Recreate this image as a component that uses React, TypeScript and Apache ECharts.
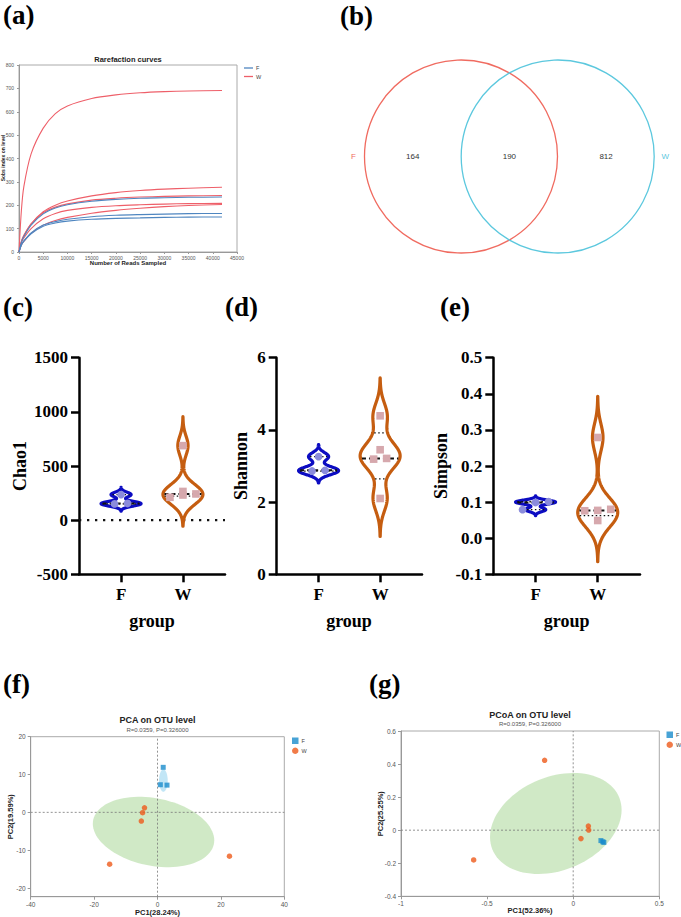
import React, { useEffect, useRef } from "react";
import * as echarts from "echarts";

const SERIF = "'Times New Roman', 'Liberation Serif', serif";
const SANS = "Arial, 'Liberation Sans', Helvetica, sans-serif";

// ---------- (a) rarefaction curves: sequencing depth vs observed OTUs ----------
const readDepth = [0, 500, 1000, 2500, 5000, 7500, 10000, 15000, 20000, 25000, 30000, 35000, 41900];
const rareF = [
  [0, 42, 66, 115, 163, 188, 202, 217, 225, 230, 232, 234, 235],
  [0, 32, 48, 82, 115, 130, 140, 151, 157, 160, 162, 164, 165],
  [0, 30, 46, 78, 110, 124, 132, 140, 144, 146, 148, 149, 150],
];
const rareW = [
  [0, 180, 280, 420, 530, 592, 625, 657, 672, 681, 686, 689, 691],
  [0, 45, 70, 120, 172, 200, 218, 240, 254, 263, 269, 273, 277],
  [0, 45, 70, 120, 168, 192, 206, 222, 230, 235, 238, 240, 242],
  [0, 40, 60, 100, 142, 165, 178, 191, 198, 202, 205, 207, 208],
  [0, 30, 45, 80, 115, 135, 148, 166, 178, 187, 194, 199, 203],
];

// ---------- (b) Venn of OTUs ----------
const vennSets = ["F", "W"];
const vennCounts = [164, 190, 812]; // F only, shared, W only

// ---------- (c)-(e) alpha diversity per sample ----------
const groupNames = ["F", "W"];
const chao1F = [236, 154, 150];
const chao1W = [688, 265, 242, 232, 211];
const shannonF = [3.26, 2.88, 2.86];
const shannonW = [4.39, 3.45, 3.21, 3.19, 2.1];
const simpsonF = [0.101, 0.099, 0.079];
const simpsonW = [0.279, 0.08, 0.077, 0.076, 0.049];

// ---------- (f) PCA and (g) PCoA ----------
const pcaF = [[1.8, 11.9], [0.9, 7.3], [3.0, 7.2]];
const pcaW = [[-4.1, 1.2], [-4.7, -0.1], [-5.1, -2.3], [-15.1, -13.7], [22.7, -11.6]];
// ellipse: centre x, centre y, x half-extent, y half-extent, correlation
const pcaEllipseW = [-1.25, -5.2, 19.15, 9.3, -0.236];
const pcaEllipseF = [1.85, 8.4, 1.37, 2.95, 0];
const pcoaF = [[0.161, -0.063], [0.172, -0.07], [0.178, -0.074]];
const pcoaW = [[-0.166, 0.423], [-0.578, -0.18], [0.088, 0.025], [0.09, 0.001], [0.045, -0.051]];
const pcoaEllipseW = [-0.101, 0.0405, 0.382, 0.3055, 0.268];

const C = {
  rareRed: "#ee5f69",
  rareBlue: "#4f86c0",
  vennF: "#f06b60",
  vennW: "#5cc8de",
  violinF: "#0c0cc2",
  violinW: "#c55d10",
  dotF: "#8b8cdc",
  dotW: "#d6a8ad",
  pcaF: "#1a8ccc",
  pcaW: "#ee5a1a",
};

const plain = (v: number) => String(Math.round(v * 1000) / 1000);

type Violin = { vals: number[]; bw: number; stroke: string; dot: string; square: boolean };

function quartiles(vals: number[]) {
  const s = [...vals].sort((a, b) => a - b);
  const n = s.length;
  const at = (pos: number) => {
    const i = pos - 1;
    const lo = Math.max(0, Math.min(n - 1, Math.floor(i)));
    const hi = Math.max(0, Math.min(n - 1, Math.ceil(i)));
    const f = i - Math.floor(i);
    return s[lo] * (1 - f) + s[hi] * f;
  };
  return [at((n + 1) / 4), at((n + 1) / 2), at((3 * (n + 1)) / 4)];
}

// kernel-density violin with median/quartile lines and the samples on top
function violinRenderer(violins: Violin[]) {
  return (_params: any, api: any) => {
    const v = violins[api.value(2)];
    const xc = api.value(0);
    const HW = 20;
    const dens = (y: number) =>
      v.vals.reduce((s, x) => s + Math.exp(-0.5 * ((y - x) / v.bw) ** 2), 0);
    const lo = Math.min(...v.vals) - 3 * v.bw;
    const hi = Math.max(...v.vals) + 3 * v.bw;
    const N = 180;
    const samples: number[][] = [];
    let maxD = 0;
    for (let i = 0; i <= N; i++) {
      const y = lo + ((hi - lo) * i) / N;
      const d = dens(y);
      samples.push([y, d]);
      if (d > maxD) maxD = d;
    }
    const left: number[][] = [];
    const right: number[][] = [];
    for (const [y, d] of samples) {
      const p = api.coord([xc, y]);
      const w = (HW * d) / maxD;
      left.push([p[0] - w, p[1]]);
      right.push([p[0] + w, p[1]]);
    }
    const children: any[] = [
      {
        type: "polygon",
        shape: { points: left.concat(right.reverse()) },
        style: { fill: "#fff", stroke: v.stroke, lineWidth: 3.2, lineJoin: "round" },
      },
    ];
    const [q1, med, q3] = quartiles(v.vals);
    const hline = (y: number, dash: number[], lw: number) => {
      const p = api.coord([xc, y]);
      const w = Math.max(0, (HW * dens(y)) / maxD - 1.5);
      return {
        type: "line",
        shape: { x1: p[0] - w, y1: p[1], x2: p[0] + w, y2: p[1] },
        style: { stroke: "#111", lineWidth: lw, lineDash: dash },
      };
    };
    children.push(hline(q1, [1.5, 2.5], 1.3), hline(q3, [1.5, 2.5], 1.3), hline(med, [4, 3], 2));

    const pts = v.vals
      .map((val) => ({ val, p: api.coord([xc, val]) }))
      .sort((a, b) => a.val - b.val);
    const rows: any[][] = [];
    for (const pt of pts) {
      const row = rows[rows.length - 1];
      if (row && row.length < 3 && Math.abs(row[0].p[1] - pt.p[1]) < 8) row.push(pt);
      else rows.push([pt]);
    }
    for (const row of rows) {
      row.forEach((pt, i) => {
        const cx = pt.p[0] + (i - (row.length - 1) / 2) * 13;
        const cy = pt.p[1];
        if (v.square) {
          children.push({
            type: "rect",
            shape: { x: cx - 3.8, y: cy - 3.8, width: 7.6, height: 7.6 },
            style: { fill: v.dot },
          });
        } else {
          children.push({ type: "circle", shape: { cx, cy, r: 3.9 }, style: { fill: v.dot } });
        }
      });
    }
    return { type: "group", children };
  };
}

function ellipseRenderer(fills: string[]) {
  return (params: any, api: any) => {
    const cx = api.value(0), cy = api.value(1), sx = api.value(2), sy = api.value(3), r = api.value(4);
    const pts: number[][] = [];
    for (let i = 0; i < 96; i++) {
      const t = (i / 96) * Math.PI * 2;
      const dx = sx * Math.cos(t);
      const dy = r * sy * Math.cos(t) + sy * Math.sqrt(1 - r * r) * Math.sin(t);
      pts.push(api.coord([cx + dx, cy + dy]));
    }
    return { type: "polygon", shape: { points: pts }, style: { fill: fills[params.dataIndex] } };
  };
}

const txt = (
  text: string,
  x: number,
  y: number,
  font: string,
  fill = "#000",
  rotation = 0,
  align = "center"
) => ({
  type: "text",
  x,
  y,
  rotation,
  silent: true,
  style: { text, font, fill, textAlign: align, textVerticalAlign: "middle", align, verticalAlign: "middle" },
});

function violinAxes(gridIndex: number, min: number, max: number, interval: number, fmt: (v: number) => string) {
  const axisLine = { show: true, onZero: false, lineStyle: { color: "#000", width: 2.5 } };
  const label = { fontSize: 17, fontWeight: "bold", fontFamily: SERIF, color: "#000" };
  return {
    x: {
      gridIndex,
      type: "value",
      min: 0.32,
      max: 2.68,
      axisLine,
      axisTick: { show: true, customValues: [1, 2], length: 8, lineStyle: { color: "#000", width: 2.5 } },
      axisLabel: { ...label, customValues: [1, 2], margin: 12, formatter: (v: number) => groupNames[Math.round(v) - 1] },
      splitLine: { show: false },
    },
    y: {
      gridIndex,
      type: "value",
      min,
      max,
      interval,
      axisLine,
      axisTick: { show: true, length: 8, lineStyle: { color: "#000", width: 2.5 } },
      axisLabel: { ...label, margin: 11, formatter: fmt },
      splitLine: { show: false },
    },
  };
}

function smallAxes(gridIndex: number, xr: number[], xInterval: number, yr: number[], yTicks: number[]) {
  const axisLine = { show: true, onZero: false, lineStyle: { color: "#999", width: 1 } };
  const axisTick = { show: true, length: 3, lineStyle: { color: "#999" } };
  const label = { fontSize: 6.5, color: "#555", fontFamily: SANS, formatter: plain };
  return {
    x: {
      gridIndex, type: "value", min: xr[0], max: xr[1], interval: xInterval,
      axisLine, axisTick, axisLabel: { ...label, margin: 4 }, splitLine: { show: false },
    },
    y: {
      gridIndex, type: "value", min: yr[0], max: yr[1],
      axisLine,
      axisTick: { ...axisTick, customValues: yTicks },
      axisLabel: { ...label, margin: 5, customValues: yTicks },
      splitLine: { show: false },
    },
  };
}

function buildOption() {
  // grids: a, b, c, d, e, f, g
  const grid = [
    { left: 19, top: 65, width: 218, height: 187, show: true, borderColor: "#aaa", borderWidth: 1 },
    { left: 461, top: 60, width: 96.7, height: 193 },
    { left: 79, top: 357.7, width: 146, height: 216.6 },
    { left: 276.7, top: 357.7, width: 145.3, height: 216.6 },
    { left: 493.3, top: 357.7, width: 146.7, height: 216.6 },
    { left: 30.7, top: 736.7, width: 253.6, height: 160, show: true, borderColor: "#aaa", borderWidth: 1 },
    { left: 401, top: 731, width: 258.3, height: 165.3, show: true, borderColor: "#aaa", borderWidth: 1 },
  ].map((g) => ({ ...g, containLabel: false, outerBoundsMode: "none" }));

  const rareAxisLine = { show: true, onZero: false, lineStyle: { color: "#999", width: 1 } };
  const rareTick = { show: true, length: 2, lineStyle: { color: "#999" } };
  const rareLabel = { fontSize: 5, color: "#555", fontFamily: SANS, formatter: plain };
  const ax: any[] = [];
  const ay: any[] = [];
  ax.push({ gridIndex: 0, type: "value", min: 0, max: 45000, interval: 5000, axisLine: rareAxisLine, axisTick: rareTick, axisLabel: { ...rareLabel, margin: 3 }, splitLine: { show: false } });
  ay.push({ gridIndex: 0, type: "value", min: 0, max: 800, interval: 100, axisLine: rareAxisLine, axisTick: rareTick, axisLabel: { ...rareLabel, margin: 5 }, splitLine: { show: false } });
  ax.push({ gridIndex: 1, type: "value", min: 0, max: 1, show: false });
  ay.push({ gridIndex: 1, type: "value", min: -1, max: 1, show: false });
  const vc = violinAxes(2, -500, 1500, 500, plain);
  const vd = violinAxes(3, 0, 6, 2, plain);
  const ve = violinAxes(4, -0.1, 0.5, 0.1, (v) => v.toFixed(1));
  ax.push(vc.x, vd.x, ve.x);
  ay.push(vc.y, vd.y, ve.y);
  const pf = smallAxes(5, [-40, 40], 20, [-22.3, 20], [-20, -10, 0, 10, 20]);
  const pg = smallAxes(6, [-1, 0.5], 0.5, [-0.4, 0.6], [-0.4, -0.2, 0, 0.2, 0.4, 0.6]);
  ax.push(pf.x, pg.x);
  ay.push(pf.y, pg.y);

  const series: any[] = [];

  // (a) rarefaction curves
  const curve = (vals: number[]) => readDepth.map((d, i) => [d, vals[i]]);
  rareF.forEach((vals) =>
    series.push({
      type: "line", name: "F", xAxisIndex: 0, yAxisIndex: 0, data: curve(vals),
      smooth: 0.3, showSymbol: false, symbol: "none",
      lineStyle: { color: C.rareBlue, width: 1.1 }, itemStyle: { color: C.rareBlue }, z: 3,
    })
  );
  rareW.forEach((vals) =>
    series.push({
      type: "line", name: "W", xAxisIndex: 0, yAxisIndex: 0, data: curve(vals),
      smooth: 0.3, showSymbol: false, symbol: "none",
      lineStyle: { color: C.rareRed, width: 1.1 }, itemStyle: { color: C.rareRed }, z: 2,
    })
  );

  // (b) Venn diagram
  const vennColors = [C.vennF, C.vennW];
  const vennX = [0, 1];
  series.push({
    type: "custom", xAxisIndex: 1, yAxisIndex: 1, clip: false,
    data: vennSets.map((_, i) => [vennX[i], 0, i]),
    encode: { x: 0, y: 1 },
    renderItem: (_p: any, api: any) => {
      const i = api.value(2);
      const c = api.coord([api.value(0), 0]);
      const r = api.size([0, 1])[1];
      const side = i === 0 ? -1 : 1;
      return {
        type: "group",
        children: [
          { type: "circle", shape: { cx: c[0], cy: c[1], r }, style: { fill: "none", stroke: vennColors[i], lineWidth: 1.3 } },
          {
            type: "text", x: c[0] + side * (r + 11), y: c[1],
            style: { text: vennSets[i], font: `8px ${SANS}`, fill: vennColors[i], align: "center", verticalAlign: "middle", textAlign: "center", textVerticalAlign: "middle" },
          },
        ],
      };
    },
  });
  const gap = vennX[1] - vennX[0];
  const countX = [vennX[0] - gap / 2, (vennX[0] + vennX[1]) / 2, vennX[1] + gap / 2];
  series.push({
    type: "custom", xAxisIndex: 1, yAxisIndex: 1, clip: false,
    data: vennCounts.map((n, i) => [countX[i], 0, n]),
    encode: { x: 0, y: 1 },
    renderItem: (_p: any, api: any) => {
      const c = api.coord([api.value(0), api.value(1)]);
      return {
        type: "text", x: c[0], y: c[1],
        style: { text: String(api.value(2)), font: `8px ${SANS}`, fill: "#333", align: "center", verticalAlign: "middle", textAlign: "center", textVerticalAlign: "middle" },
      };
    },
  });

  // (c)-(e) violins
  const panels: [number, Violin[]][] = [
    [2, [
      { vals: chao1F, bw: 22, stroke: C.violinF, dot: C.dotF, square: false },
      { vals: chao1W, bw: 89, stroke: C.violinW, dot: C.dotW, square: true },
    ]],
    [3, [
      { vals: shannonF, bw: 0.11, stroke: C.violinF, dot: C.dotF, square: false },
      { vals: shannonW, bw: 0.35, stroke: C.violinW, dot: C.dotW, square: true },
    ]],
    [4, [
      { vals: simpsonF, bw: 0.0055, stroke: C.violinF, dot: C.dotF, square: false },
      { vals: simpsonW, bw: 0.038, stroke: C.violinW, dot: C.dotW, square: true },
    ]],
  ];
  // dotted zero reference for Chao1
  series.push({
    type: "line", xAxisIndex: 2, yAxisIndex: 2, data: [[0.32, 0], [2.68, 0]], symbol: "none", silent: true,
    lineStyle: { color: "#111", width: 2.3, type: [2.3, 5.7] }, z: 1,
  });
  panels.forEach(([gi, violins]) =>
    series.push({
      type: "custom", xAxisIndex: gi, yAxisIndex: gi, clip: false, z: 3,
      data: violins.map((v, i) => [i + 1, quartiles(v.vals)[1], i]),
      encode: { x: 0, y: 1 },
      renderItem: violinRenderer(violins),
    })
  );

  // (f) PCA and (g) PCoA
  const ord: [number, number[][], number[][], number[][], string, number[], number[]][] = [
    [5, pcaF, pcaW, [pcaEllipseW, pcaEllipseF], "PCA", [-40, 40], [-22.3, 20]],
    [6, pcoaF, pcoaW, [pcoaEllipseW], "PCoA", [-1, 0.5], [-0.4, 0.6]],
  ];
  ord.forEach(([gi, fPts, wPts, ells, tag, xr, yr]) => {
    series.push({
      type: "custom", xAxisIndex: gi, yAxisIndex: gi, clip: true, z: 1, silent: true,
      data: ells, encode: { x: 0, y: 1 },
      renderItem: ellipseRenderer(["rgba(150, 206, 128, 0.45)", "rgba(120, 200, 235, 0.45)"]),
    });
    const dotted = { color: "#777", width: 0.8, type: [2, 2] };
    series.push({ type: "line", xAxisIndex: gi, yAxisIndex: gi, data: [[xr[0], 0], [xr[1], 0]], symbol: "none", silent: true, lineStyle: dotted, z: 2 });
    series.push({ type: "line", xAxisIndex: gi, yAxisIndex: gi, data: [[0, yr[0]], [0, yr[1]]], symbol: "none", silent: true, lineStyle: dotted, z: 2 });
    series.push({ type: "scatter", name: `F (${tag})`, xAxisIndex: gi, yAxisIndex: gi, data: fPts, symbol: "rect", symbolSize: 5, itemStyle: { color: C.pcaF }, z: 4 });
    series.push({ type: "scatter", name: `W (${tag})`, xAxisIndex: gi, yAxisIndex: gi, data: wPts, symbol: "circle", symbolSize: 5.5, itemStyle: { color: C.pcaW }, z: 4 });
  });

  const legendText = { fontSize: 5.5, color: "#444", fontFamily: SANS, padding: [0, 0, 0, -2] };
  const legend = [
    {
      left: 244, top: 65, padding: 0, orient: "vertical", itemWidth: 9, itemHeight: 1.3, itemGap: 2.5, selectedMode: false,
      icon: "rect", data: ["F", "W"], textStyle: legendText,
    },
    {
      left: 292, top: 737.5, padding: 0, orient: "vertical", itemWidth: 6.5, itemHeight: 6.5, itemGap: 3.5, selectedMode: false,
      data: [{ name: "F (PCA)", icon: "rect" }, { name: "W (PCA)", icon: "circle" }],
      formatter: (n: string) => n.charAt(0), textStyle: legendText,
    },
    {
      left: 666.5, top: 731.5, padding: 0, orient: "vertical", itemWidth: 6.5, itemHeight: 6.5, itemGap: 3.5, selectedMode: false,
      data: [{ name: "F (PCoA)", icon: "rect" }, { name: "W (PCoA)", icon: "circle" }],
      formatter: (n: string) => n.charAt(0), textStyle: legendText,
    },
  ];

  const panelFont = `bold 27px ${SERIF}`;
  const axisNameFont = `bold 18px ${SERIF}`;
  const graphic = [
    txt("(a)", 3, 15, panelFont, "#000", 0, "left"),
    txt("(b)", 340, 16, panelFont, "#000", 0, "left"),
    txt("(c)", 3, 307, panelFont, "#000", 0, "left"),
    txt("(d)", 225, 307, panelFont, "#000", 0, "left"),
    txt("(e)", 440, 307, panelFont, "#000", 0, "left"),
    txt("(f)", 3, 684, panelFont, "#000", 0, "left"),
    txt("(g)", 369, 684, panelFont, "#000", 0, "left"),
    txt("Rarefaction curves", 128, 59, `bold 7.5px ${SANS}`, "#222"),
    txt("Number of Reads Sampled", 128, 263, `bold 6px ${SANS}`, "#222"),
    txt("Sobs index on level", 3.2, 158, `bold 5px ${SANS}`, "#222", Math.PI / 2),
    txt("Chao1", 20, 466, axisNameFont, "#000", Math.PI / 2),
    txt("Shannon", 241, 466, axisNameFont, "#000", Math.PI / 2),
    txt("Simpson", 441, 466, axisNameFont, "#000", Math.PI / 2),
    txt("group", 152, 621, axisNameFont),
    txt("group", 349, 621, axisNameFont),
    txt("group", 566.7, 621, axisNameFont),
    txt("PCA on OTU level", 157.5, 720, `bold 9px ${SANS}`, "#222"),
    txt("R=0.0359, P=0.326000", 157.5, 729.5, `6px ${SANS}`, "#555"),
    txt("PC1(28.24%)", 157.5, 912.5, `bold 7.5px ${SANS}`, "#222"),
    txt("PC2(19.59%)", 10, 816.7, `bold 7.5px ${SANS}`, "#222", Math.PI / 2),
    txt("PCoA on OTU level", 530, 715.3, `bold 9px ${SANS}`, "#222"),
    txt("R=0.0359, P=0.326000", 530, 724.2, `6px ${SANS}`, "#555"),
    txt("PC1(52.36%)", 530, 910.7, `bold 7.5px ${SANS}`, "#222"),
    txt("PC2(25.25%)", 380, 813.7, `bold 7.5px ${SANS}`, "#222", Math.PI / 2),
  ];

  return {
    animation: false,
    backgroundColor: "#fff",
    grid,
    xAxis: ax,
    yAxis: ay,
    series,
    legend,
    graphic,
  };
}

export default function App() {
  const ref = useRef<HTMLDivElement>(null);
  useEffect(() => {
    if (!ref.current) return;
    const chart = echarts.init(ref.current, null, { renderer: "svg" });
    chart.setOption(buildOption() as any);
    return () => chart.dispose();
  }, []);
  return (
    <div
      ref={ref}
      style={{ position: "fixed", left: 0, top: 0, width: 681, height: 917, background: "#fff" }}
    />
  );
}
